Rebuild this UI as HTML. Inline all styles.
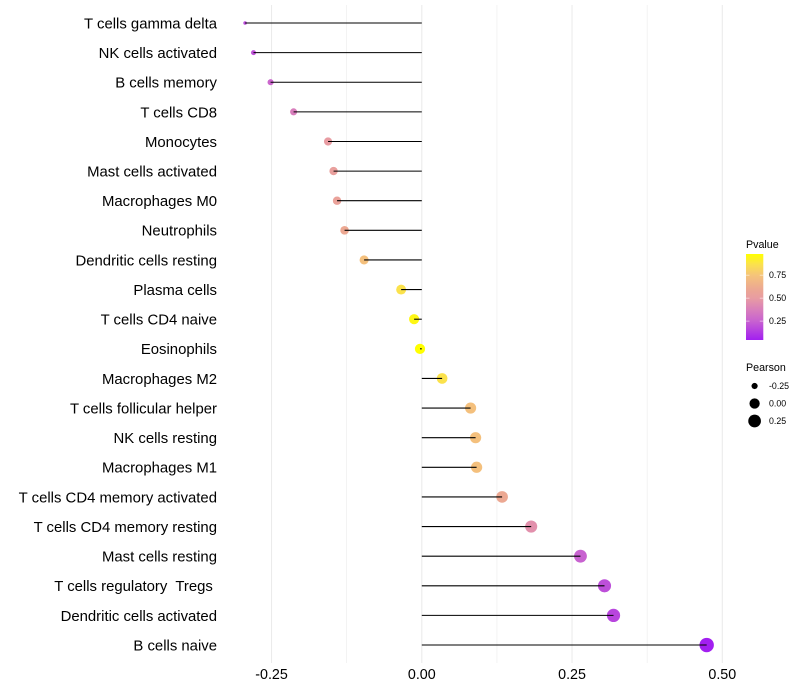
<!DOCTYPE html>
<html lang="en">
<head>
<meta charset="utf-8">
<title>Pearson lollipop chart</title>
<style>
html,body{margin:0;padding:0;background:#fff}
svg{display:block}
text{font-family:"Liberation Sans",Arial,sans-serif;fill:#000}
</style>
</head>
<body>
<svg id="chart" xmlns="http://www.w3.org/2000/svg" width="800" height="700" viewBox="0 0 800 700"></svg>
<script>
const categories = ["T cells gamma delta","NK cells activated","B cells memory","T cells CD8","Monocytes","Mast cells activated","Macrophages M0","Neutrophils","Dendritic cells resting","Plasma cells","T cells CD4 naive","Eosinophils","Macrophages M2","T cells follicular helper","NK cells resting","Macrophages M1","T cells CD4 memory activated","T cells CD4 memory resting","Mast cells resting","T cells regulatory  Tregs ","Dendritic cells activated","B cells naive"];
const pearson = [-0.294,-0.28,-0.2516,-0.2133,-0.156,-0.1468,-0.141,-0.1285,-0.096,-0.0344,-0.0128,-0.003,0.0338,0.0812,0.0895,0.0912,0.1336,0.182,0.264,0.304,0.319,0.474];
const pvalue = [0.18,0.2,0.27,0.37,0.5,0.53,0.55,0.6,0.73,0.87,0.95,0.99,0.87,0.73,0.73,0.73,0.6,0.45,0.25,0.19,0.16,0.03];
const xMajorTicks = [-0.25,0,0.25,0.5];
const xMajorLabels = ["-0.25","0.00","0.25","0.50"];
const xMinorTicks = [-0.125,0.125,0.375];
const pLegendTicks = [0.25,0.5,0.75];
const pLegendLabels = ["0.25","0.50","0.75"];
const sizeLegendValues = [-0.25,0,0.25];
const sizeLegendLabels = ["-0.25","0.00","0.25"];

const NS = "http://www.w3.org/2000/svg";
const svg = document.getElementById("chart");
function make(tag, attrs, parent) {
  const el = document.createElementNS(NS, tag);
  for (const k in attrs) el.setAttribute(k, attrs[k]);
  (parent || svg).appendChild(el);
  return el;
}
const xScale = v => 421.8 + v * 601;
const yScale = i => 23 + i * 29.62;
const pMin = 0.044, pMax = 0.98;
const pScale = p => 340 - (p - pMin) / (pMax - pMin) * 86;
const pMinV = Math.min(...pearson), pMaxV = Math.max(...pearson);
const radius = v => (3.6 + 10.8 * Math.sqrt(Math.max(0, (v - pMinV) / (pMaxV - pMinV)))) / 2;
const colorStops = [[0.04,[162,31,240]],[0.25,[200,98,208]],[0.37,[216,126,188]],[0.5,[232,156,162]],[0.6,[236,168,146]],[0.75,[245,196,122]],[0.87,[251,226,76]],[0.98,[255,255,0]]];
function color(p) {
  if (p <= colorStops[0][0]) return "rgb(" + colorStops[0][1].join(",") + ")";
  for (let i = 1; i < colorStops.length; i++) {
    if (p <= colorStops[i][0]) {
      const a = colorStops[i-1], b = colorStops[i], t = (p - a[0]) / (b[0] - a[0]);
      return "rgb(" + a[1].map((c, j) => Math.round(c + (b[1][j] - c) * t)).join(",") + ")";
    }
  }
  return "rgb(255,255,0)";
}

/* gridlines */
xMinorTicks.forEach(v => {
  const l = make("line", {x1:xScale(v), x2:xScale(v), y1:5, y2:663, stroke:"#ebebeb", "stroke-width":0.6});
  
  
});
xMajorTicks.forEach((v, i) => {
  const l = make("line", {x1:xScale(v), x2:xScale(v), y1:5, y2:663, stroke:"#ebebeb", "stroke-width":1.07});
  
  
  const t = make("text", {x:xScale(v), y:678.8, "text-anchor":"middle", "font-size":"14.3"});
  t.textContent = xMajorLabels[i];
  
  
});

/* rows */
categories.forEach((c, i) => {
  const t = make("text", {x:217, y:yScale(i) + 5.4, "text-anchor":"end", "font-size":"14.9", "xml:space":"preserve"});
  t.style.whiteSpace = "pre";
  t.textContent = c;
  
  
  const d = make("circle", {cx:xScale(pearson[i]), cy:yScale(i), r:radius(pearson[i]), fill:color(pvalue[i])});
  
  
  const l = make("line", {x1:xScale(0), x2:xScale(pearson[i]), y1:yScale(i), y2:yScale(i), stroke:"#000", "stroke-width":1.07});
  
  
});

/* Pvalue legend */
const pTitle = make("text", {x:746, y:248, "font-size":"10.7"});
pTitle.textContent = "Pvalue";


const defs = make("defs", {});
const grad = make("linearGradient", {id:"pgrad", x1:0, y1:1, x2:0, y2:0}, defs);
colorStops.forEach(s => {
  make("stop", {offset:(s[0] - pMin) / (pMax - pMin), "stop-color":color(s[0])}, grad);
});
const bar = make("rect", {x:746, y:254, width:17.3, height:86, fill:"url(#pgrad)"});


pLegendTicks.forEach((p, i) => {
  const y = pScale(p);
  const a = make("line", {x1:746, x2:749.5, y1:y, y2:y, stroke:"#fff", "stroke-width":0.5});
  
  
  const b = make("line", {x1:759.8, x2:763.3, y1:y, y2:y, stroke:"#fff", "stroke-width":0.5});
  
  
  const t = make("text", {x:769, y:y + 3, "font-size":"8.8"});
  t.textContent = pLegendLabels[i];
  
  
});

/* Pearson legend */
const sTitle = make("text", {x:746, y:371, "font-size":"10.7"});
sTitle.textContent = "Pearson";


sizeLegendValues.forEach((v, i) => {
  const y = 386 + i * 17.5;
  const d = make("circle", {cx:754.6, cy:y, r:radius(v), fill:"#000"});
  
  
  const t = make("text", {x:769, y:y + 3, "font-size":"8.8"});
  t.textContent = sizeLegendLabels[i];
  
  
});
</script>
</body>
</html>
